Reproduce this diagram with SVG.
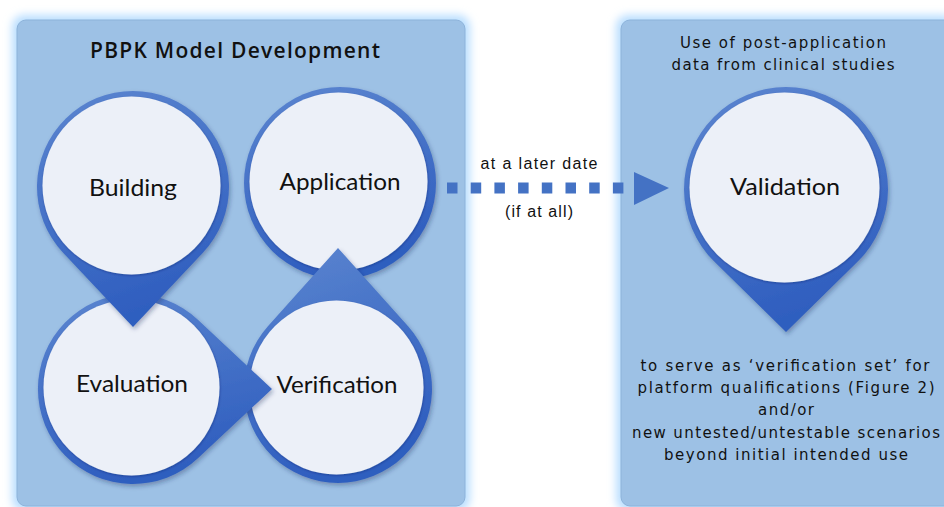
<svg xmlns="http://www.w3.org/2000/svg" width="944" height="507" viewBox="0 0 944 507">
<defs>
  <linearGradient id="ringGrad" x1="0" y1="0" x2="0.3" y2="1">
    <stop offset="0" stop-color="#5c86d0"/>
    <stop offset="1" stop-color="#2f5ebf"/>
  </linearGradient>
  <filter id="glow" x="-10%" y="-10%" width="120%" height="120%">
    <feGaussianBlur stdDeviation="4"/>
  </filter>
  <filter id="shadow" x="-20%" y="-20%" width="140%" height="140%">
    <feDropShadow dx="1.5" dy="2.5" stdDeviation="2" flood-color="#1a2f5a" flood-opacity="0.35"/>
  </filter>
  <filter id="innerShadow" x="-10%" y="-10%" width="120%" height="120%">
    <feDropShadow dx="0.5" dy="1" stdDeviation="1.2" flood-color="#0d2352" flood-opacity="0.35"/>
  </filter>
</defs>
<style>
  .panel { fill: #9dc1e5; stroke: #8db3da; stroke-width: 1; }
  .halo { fill: #b9defe; filter: url(#glow); }
  .ring { fill: url(#ringGrad); filter: url(#shadow); }
  .inner { fill: #ecf0f8; filter: url(#innerShadow); }
  .lbl { font-family: Lato, "Liberation Sans", sans-serif; font-size: 24px; fill: #111; text-anchor: middle; }
  .title { font-family: "Open Sans", "DejaVu Sans", sans-serif; font-size: 21px; font-weight: 600; fill: #111; text-anchor: middle; }
  .note { font-family: "DejaVu Sans", Verdana, sans-serif; font-size: 15px; fill: #111; text-anchor: middle; }
  .conn { font-family: "Liberation Sans", Arial, sans-serif; font-size: 16px; fill: #111; text-anchor: middle; }
</style>

<!-- panels -->
<g id="panel-left">
  <rect class="halo" x="12" y="15" width="458" height="496" rx="12"/>
  <rect class="panel" x="17" y="20" width="448" height="486" rx="9"/>
  <text class="title" x="235" y="58" textLength="290" lengthAdjust="spacing">PBPK Model Development</text>
</g>
<g id="panel-right">
  <rect class="halo" x="616" y="15" width="340" height="496" rx="12"/>
  <rect class="panel" x="621" y="20" width="340" height="486" rx="9"/>
  <text class="note" x="783" y="48" textLength="206" lengthAdjust="spacing">Use of post-application</text>
  <text class="note" x="783" y="70" textLength="223" lengthAdjust="spacing">data from clinical studies</text>
  <text class="note" x="785" y="371" textLength="289" lengthAdjust="spacing">to serve as ‘verification set’ for</text>
  <text class="note" x="786" y="393" textLength="297" lengthAdjust="spacing">platform qualifications (Figure 2)</text>
  <text class="note" x="786" y="415" textLength="56" lengthAdjust="spacing">and/or</text>
  <text class="note" x="786" y="438" textLength="308" lengthAdjust="spacing">new untested/untestable scenarios</text>
  <text class="note" x="786" y="460" textLength="244" lengthAdjust="spacing">beyond initial intended use</text>
</g>

<!-- nodes (drawn back to front) -->
<g id="node-application">
  <circle class="ring" cx="340" cy="183" r="96"/>
  <circle class="inner" cx="338.5" cy="181.5" r="89"/>
  <text class="lbl" x="340" y="190" textLength="121" lengthAdjust="spacingAndGlyphs">Application</text>
</g>
<g id="node-verification">
  <path class="ring" d="M338,248 L408.1,326.3 A94,94 0 1 1 267.9,326.3 Z"/>
  <circle class="inner" cx="336.5" cy="387.5" r="87"/>
  <text class="lbl" x="337" y="393" textLength="121" lengthAdjust="spacingAndGlyphs">Verification</text>
</g>
<g id="node-evaluation">
  <path class="ring" d="M272,389 L197.9,458.3 A95,95 0 1 1 197.9,319.7 Z"/>
  <circle class="inner" cx="131.5" cy="387.5" r="88"/>
  <text class="lbl" x="132" y="392" textLength="112" lengthAdjust="spacingAndGlyphs">Evaluation</text>
</g>
<g id="node-building">
  <path class="ring" d="M133,327 L202.9,252.8 A96,96 0 1 0 63.1,252.8 Z"/>
  <circle class="inner" cx="131.5" cy="185.5" r="89"/>
  <text class="lbl" x="133" y="196" textLength="88" lengthAdjust="spacingAndGlyphs">Building</text>
</g>
<g id="node-validation">
  <path class="ring" d="M786,332 L857.5,261.8 A102,102 0 1 0 714.5,261.8 Z"/>
  <circle class="inner" cx="784.5" cy="187.5" r="95"/>
  <text class="lbl" x="785" y="195" textLength="110" lengthAdjust="spacingAndGlyphs">Validation</text>
</g>

<!-- connectors -->
<g id="connectors">
  <line x1="447" y1="188" x2="624" y2="188" stroke="#4472c4" stroke-width="11" stroke-dasharray="10.5 13.2"/>
  <polygon points="634,172 669,188 634,205" fill="#4472c4"/>
  <text class="conn" x="539" y="169" textLength="117" lengthAdjust="spacing">at a later date</text>
  <text class="conn" x="539" y="217" textLength="68" lengthAdjust="spacing">(if at all)</text>
</g>
</svg>
